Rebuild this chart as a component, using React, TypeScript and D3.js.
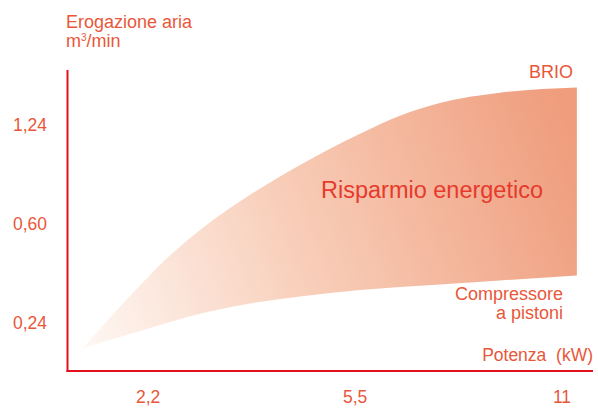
import { useEffect, useRef } from "react";
import * as d3 from "d3";

// positions on the (non linear) axes: 1, 2, 3 = tick index
const xTickLabels = ["2,2", "5,5", "11"];
const yTickLabels = ["0,24", "0,60", "1,24"];

const xPos = [0.685, 0.815, 0.946, 1.105, 1.265, 1.478, 1.734, 2.024, 2.217, 2.41, 2.7, 3.072];
const brio = [0.752, 1.057, 1.352, 1.686, 1.968, 2.279, 2.601, 2.916, 3.098, 3.227, 3.33, 3.384];
const pistoni = [0.752, 0.833, 0.914, 1.015, 1.106, 1.197, 1.272, 1.338, 1.368, 1.394, 1.434, 1.485];

const RED = "#e3101e";
const TXT = "#e9573a";
const FONT = "'Liberation Sans', Arial, Helvetica, sans-serif";

export default function App() {
  const ref = useRef<SVGSVGElement | null>(null);

  useEffect(() => {
    const svg = d3.select(ref.current);
    svg.selectAll("*").remove();

    const x = d3.scaleLinear().domain([0.61, 3.15]).range([67.5, 593]);
    const y = d3.scaleLinear().domain([0.52, 3.56]).range([371, 70]);

    const defs = svg.append("defs");
    const grad = defs.append("linearGradient")
      .attr("id", "band")
      .attr("gradientUnits", "userSpaceOnUse")
      .attr("x1", x(0.7)).attr("y1", y(0.75))
      .attr("x2", x(3.1)).attr("y2", y(2.6));
    grad.append("stop").attr("offset", "0").attr("stop-color", "#fef7f3");
    grad.append("stop").attr("offset", "0.45").attr("stop-color", "#f8cdb8");
    grad.append("stop").attr("offset", "1").attr("stop-color", "#ef9d7d");

    const rows = xPos.map((p, i) => ({ p, hi: brio[i], lo: pistoni[i] }));
    const area = d3.area<{ p: number; hi: number; lo: number }>()
      .x(d => x(d.p))
      .y0(d => y(d.lo))
      .y1(d => y(d.hi))
      .curve(d3.curveMonotoneX);

    svg.append("path")
      .attr("d", area(rows))
      .attr("fill", "url(#band)");

    // axes
    svg.append("line")
      .attr("x1", x(0.61)).attr("x2", x(0.61))
      .attr("y1", y(3.56)).attr("y2", y(0.52) + 1)
      .attr("stroke", RED).attr("stroke-width", 2);
    svg.append("line")
      .attr("x1", x(0.61) - 1).attr("x2", x(3.15))
      .attr("y1", y(0.52)).attr("y2", y(0.52))
      .attr("stroke", RED).attr("stroke-width", 2);

    const txt = (t: string, px: number, py: number, size: number, anchor = "start", fill = TXT) =>
      svg.append("text")
        .attr("x", px).attr("y", py)
        .attr("font-size", size)
        .attr("font-family", FONT)
        .attr("text-anchor", anchor)
        .attr("fill", fill)
        .text(t);

    xTickLabels.forEach((t, i) => txt(t, x(i + 1), 403, 17.5, "middle"));
    yTickLabels.forEach((t, i) => txt(t, 30, y(i + 1) + 6, 17.5, "middle"));

    txt("Erogazione aria", 66, 28, 18);
    const m = txt("m", 66, 47, 18);
    m.append("tspan").attr("font-size", 10).attr("dy", -6).text("3");
    m.append("tspan").attr("dy", 6).text("/min");

    txt("BRIO", 573, 78, 18, "end");
    txt("Risparmio energetico", 432, 198, 23.5, "middle", "#e63a2c");
    txt("Compressore", 563, 300, 18, "end");
    txt("a pistoni", 563, 319, 18, "end");
    txt("Potenza  (kW)", 593, 361, 17.5, "end").attr("xml:space", "preserve").style("white-space", "pre");
  }, []);

  return (
    <svg
      ref={ref}
      width={598}
      height={409}
      style={{ position: "absolute", left: 0, top: 0, background: "#fff" }}
    />
  );
}
